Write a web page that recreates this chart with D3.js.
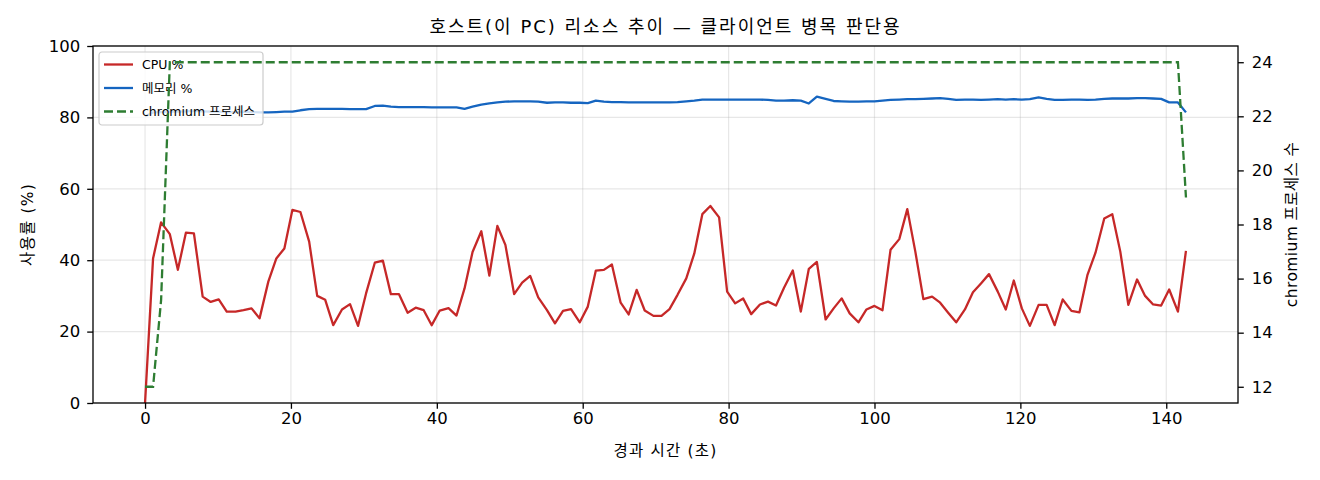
<!DOCTYPE html>
<html>
<head>
<meta charset="utf-8">
<script src="https://cdn.jsdelivr.net/npm/d3@7"></script>
<style>
  html, body { margin: 0; padding: 0; background: #fff; }
  svg text { font-family: "DejaVu Sans", "Noto Sans CJK KR", sans-serif; fill: #000; }
</style>
</head>
<body>
<svg id="chart" width="1320" height="480"></svg>
<script>
// Données (un échantillon ≈ 1,12 s)
const temps = [
  0.0, 1.1, 2.2, 3.4, 4.5, 5.6, 6.7, 7.9, 9.0, 10.1,
  11.2, 12.4, 13.5, 14.6, 15.7, 16.9, 18.0, 19.1, 20.2, 21.3,
  22.5, 23.6, 24.7, 25.8, 27.0, 28.1, 29.2, 30.3, 31.5, 32.6,
  33.7, 34.8, 36.0, 37.1, 38.2, 39.3, 40.4, 41.6, 42.7, 43.8,
  44.9, 46.1, 47.2, 48.3, 49.4, 50.6, 51.7, 52.8, 53.9, 55.1,
  56.2, 57.3, 58.4, 59.6, 60.7, 61.8, 62.9, 64.0, 65.2, 66.3,
  67.4, 68.5, 69.7, 70.8, 71.9, 73.0, 74.2, 75.3, 76.4, 77.5,
  78.7, 79.8, 80.9, 82.0, 83.1, 84.3, 85.4, 86.5, 87.6, 88.8,
  89.9, 91.0, 92.1, 93.3, 94.4, 95.5, 96.6, 97.8, 98.9, 100.0,
  101.1, 102.2, 103.4, 104.5, 105.6, 106.7, 107.9, 109.0, 110.1, 111.2,
  112.4, 113.5, 114.6, 115.7, 116.9, 118.0, 119.1, 120.2, 121.3, 122.5,
  123.6, 124.7, 125.8, 127.0, 128.1, 129.2, 130.3, 131.5, 132.6, 133.7,
  134.8, 136.0, 137.1, 138.2, 139.3, 140.4, 141.6, 142.7
];

const cpu = [
  0.0, 40.5, 50.6, 47.3, 37.3, 47.7, 47.5, 29.8, 28.3, 29.0,
  25.6, 25.6, 26.0, 26.5, 23.7, 34.0, 40.5, 43.3, 54.1, 53.5,
  45.2, 30.0, 28.9, 21.8, 26.2, 27.7, 21.6, 30.7, 39.3, 39.9,
  30.5, 30.5, 25.3, 26.7, 26.0, 21.8, 25.9, 26.6, 24.5, 32.1,
  42.3, 48.1, 35.7, 49.6, 44.3, 30.5, 33.7, 35.6, 29.6, 26.0,
  22.3, 25.8, 26.3, 22.6, 27.0, 37.1, 37.3, 38.8, 28.1, 24.8,
  31.7, 25.9, 24.4, 24.4, 26.3, 30.3, 34.9, 41.9, 52.9, 55.2,
  52.0, 31.2, 27.9, 29.3, 24.9, 27.6, 28.4, 27.3, 32.3, 37.1,
  25.6, 37.6, 39.5, 23.4, 26.5, 29.3, 25.1, 22.6, 26.2, 27.2,
  26.0, 42.9, 45.9, 54.3, 42.4, 29.1, 29.8, 28.1, 25.3, 22.6,
  26.2, 31.0, 33.5, 36.1, 31.2, 26.2, 34.3, 26.5, 21.6, 27.5,
  27.5, 21.8, 29.0, 25.8, 25.4, 35.9, 42.1, 51.7, 52.9, 42.4,
  27.5, 34.6, 30.0, 27.6, 27.3, 31.8, 25.6, 42.6
];

const memoire = [
  80.3, 81.4, 81.5, 81.6, 81.6, 81.7, 81.8, 81.7, 81.6, 81.6,
  81.5, 81.5, 81.6, 81.5, 81.4, 81.4, 81.5, 81.6, 81.6, 82.0,
  82.3, 82.4, 82.4, 82.4, 82.4, 82.3, 82.3, 82.3, 83.2, 83.3,
  83.0, 82.9, 82.9, 82.9, 82.9, 82.8, 82.8, 82.8, 82.8, 82.4,
  83.0, 83.6, 83.9, 84.2, 84.4, 84.5, 84.5, 84.5, 84.4, 84.1,
  84.2, 84.2, 84.1, 84.1, 84.0, 84.7, 84.4, 84.3, 84.3, 84.2,
  84.2, 84.2, 84.2, 84.2, 84.2, 84.3, 84.5, 84.7, 85.0, 85.0,
  85.0, 85.0, 85.0, 85.0, 85.0, 85.0, 84.9, 84.7, 84.7, 84.8,
  84.7, 83.9, 85.8, 85.2, 84.6, 84.5, 84.4, 84.4, 84.5, 84.5,
  84.7, 84.9, 85.0, 85.1, 85.1, 85.2, 85.3, 85.4, 85.2, 84.9,
  85.0, 85.0, 84.9, 85.0, 85.1, 85.0, 85.1, 85.0, 85.1, 85.6,
  85.2, 84.9, 84.9, 85.0, 85.0, 84.9, 85.0, 85.2, 85.3, 85.3,
  85.3, 85.4, 85.4, 85.3, 85.2, 84.2, 84.2, 81.4
];

const chromium = [
  12, 12, 15.2, 24, 24, 24, 24, 24, 24, 24,
  24, 24, 24, 24, 24, 24, 24, 24, 24, 24,
  24, 24, 24, 24, 24, 24, 24, 24, 24, 24,
  24, 24, 24, 24, 24, 24, 24, 24, 24, 24,
  24, 24, 24, 24, 24, 24, 24, 24, 24, 24,
  24, 24, 24, 24, 24, 24, 24, 24, 24, 24,
  24, 24, 24, 24, 24, 24, 24, 24, 24, 24,
  24, 24, 24, 24, 24, 24, 24, 24, 24, 24,
  24, 24, 24, 24, 24, 24, 24, 24, 24, 24,
  24, 24, 24, 24, 24, 24, 24, 24, 24, 24,
  24, 24, 24, 24, 24, 24, 24, 24, 24, 24,
  24, 24, 24, 24, 24, 24, 24, 24, 24, 24,
  24, 24, 24, 24, 24, 24, 24, 19
];

const ticksX      = [0, 20, 40, 60, 80, 100, 120, 140];
const ticksGauche = [0, 20, 40, 60, 80, 100];
const ticksDroite = [12, 14, 16, 18, 20, 22, 24];

const titre       = "호스트(이 PC) 리소스 추이 — 클라이언트 병목 판단용";
const labelX      = "경과 시간 (초)";
const labelGauche = "사용률 (%)";
const labelDroite = "chromium 프로세스 수";
const legendes    = ["CPU %", "메모리 %", "chromium 프로세스"];

// Mise en page
const W = 1320, H = 480;
const marge = { haut: 46, droite: 82, bas: 77, gauche: 93 };
const x0 = marge.gauche, x1 = W - marge.droite;
const y0 = H - marge.bas, y1 = marge.haut;

const COUL_CPU = "#c62828", COUL_MEM = "#1565c0", COUL_CHR = "#2e7d32";
const EP = 2.3, TIRETS = "9,4";

const svg = d3.select("#chart");
svg.append("rect").attr("width", W).attr("height", H).attr("fill", "#fff");

// Échelles (marges 5 % façon matplotlib)
const tMax = d3.max(temps);
const x = d3.scaleLinear().domain([-0.05 * tMax, tMax * 1.05]).range([x0, x1]);
const y = d3.scaleLinear().domain([0, 100]).range([y0, y1]);
const yD = d3.scaleLinear().domain([12 - 0.6, 24 + 0.6]).range([y0, y1]);

// Grille
const grille = svg.append("g").attr("stroke", "#b0b0b0").attr("stroke-opacity", 0.3).attr("stroke-width", 1.2);
grille.selectAll(".gx").data(ticksX).join("line")
  .attr("x1", d => x(d)).attr("x2", d => x(d)).attr("y1", y0).attr("y2", y1);
grille.selectAll(".gy").data(ticksGauche).join("line")
  .attr("x1", x0).attr("x2", x1).attr("y1", d => y(d)).attr("y2", d => y(d));

// Zone de dessin
svg.append("clipPath").attr("id", "clip")
  .append("rect").attr("x", x0).attr("y", y1).attr("width", x1 - x0).attr("height", y0 - y1);
const zone = svg.append("g").attr("clip-path", "url(#clip)");

const ligne = (ech, vals) => d3.line().x((d, i) => x(temps[i])).y(d => ech(d))(vals);

zone.append("path").attr("d", ligne(y, cpu))
  .attr("fill", "none").attr("stroke", COUL_CPU).attr("stroke-width", EP).attr("stroke-linejoin", "round");
zone.append("path").attr("d", ligne(y, memoire))
  .attr("fill", "none").attr("stroke", COUL_MEM).attr("stroke-width", EP).attr("stroke-linejoin", "round");

// Légende (sur l'axe gauche, la courbe chromium passe par-dessus)
const leg = svg.append("g").attr("transform", `translate(${x0 + 6},${y1 + 6})`);
leg.append("rect").attr("width", 164).attr("height", 73).attr("rx", 3)
  .attr("fill", "#fff").attr("fill-opacity", 0.8).attr("stroke", "#cccccc").attr("stroke-width", 1.2);
const styles = [
  { c: COUL_CPU, dash: null },
  { c: COUL_MEM, dash: null },
  { c: COUL_CHR, dash: TIRETS }
];
legendes.forEach((txt, i) => {
  const yy = 12.5 + i * 23.5;
  leg.append("line").attr("x1", 5).attr("x2", 34).attr("y1", yy).attr("y2", yy)
    .attr("stroke", styles[i].c).attr("stroke-width", EP).attr("stroke-dasharray", styles[i].dash);
  leg.append("text").attr("x", 43).attr("y", yy).attr("dy", "0.36em")
    .attr("font-size", 12.5).text(txt);
});

// Axe droit (twinx) : dessiné après la légende
const zoneD = svg.append("g").attr("clip-path", "url(#clip)");
zoneD.append("path").attr("d", ligne(yD, chromium))
  .attr("fill", "none").attr("stroke", COUL_CHR).attr("stroke-width", EP)
  .attr("stroke-dasharray", TIRETS);

// Axes
const styleAxe = g => {
  g.select(".domain").remove();
  g.selectAll(".tick line").attr("stroke", "#000").attr("stroke-width", 1.3);
  g.selectAll(".tick text").attr("font-size", 16.5).attr("fill", "#000");
};
svg.append("g").attr("transform", `translate(0,${y0})`)
  .call(d3.axisBottom(x).tickValues(ticksX).tickSize(5.8).tickPadding(3.5).tickFormat(d3.format("d")))
  .call(styleAxe);
svg.append("g").attr("transform", `translate(${x0},0)`)
  .call(d3.axisLeft(y).tickValues(ticksGauche).tickSize(5.8).tickPadding(7).tickFormat(d3.format("d")))
  .call(styleAxe);
svg.append("g").attr("transform", `translate(${x1},0)`)
  .call(d3.axisRight(yD).tickValues(ticksDroite).tickSize(5.8).tickPadding(8).tickFormat(d3.format("d")))
  .call(styleAxe);

// Cadre
svg.append("rect").attr("x", x0).attr("y", y1).attr("width", x1 - x0).attr("height", y0 - y1)
  .attr("fill", "none").attr("stroke", "#000").attr("stroke-width", 1.3);

// Textes
svg.append("text").attr("x", (x0 + x1) / 2).attr("y", 33).attr("text-anchor", "middle")
  .attr("font-size", 18).attr("letter-spacing", 2).text(titre);
svg.append("text").attr("x", (x0 + x1) / 2).attr("y", 456).attr("text-anchor", "middle")
  .attr("font-size", 15.5).attr("letter-spacing", 1.2).text(labelX);
svg.append("text").attr("transform", `translate(33,${(y0 + y1) / 2}) rotate(-90)`)
  .attr("text-anchor", "middle").attr("font-size", 15.5).attr("letter-spacing", 1.2).text(labelGauche);
svg.append("text").attr("transform", `translate(1297,${(y0 + y1) / 2}) rotate(-90)`)
  .attr("text-anchor", "middle").attr("font-size", 15.5).attr("letter-spacing", 0.4).text(labelDroite);
</script>
</body>
</html>
